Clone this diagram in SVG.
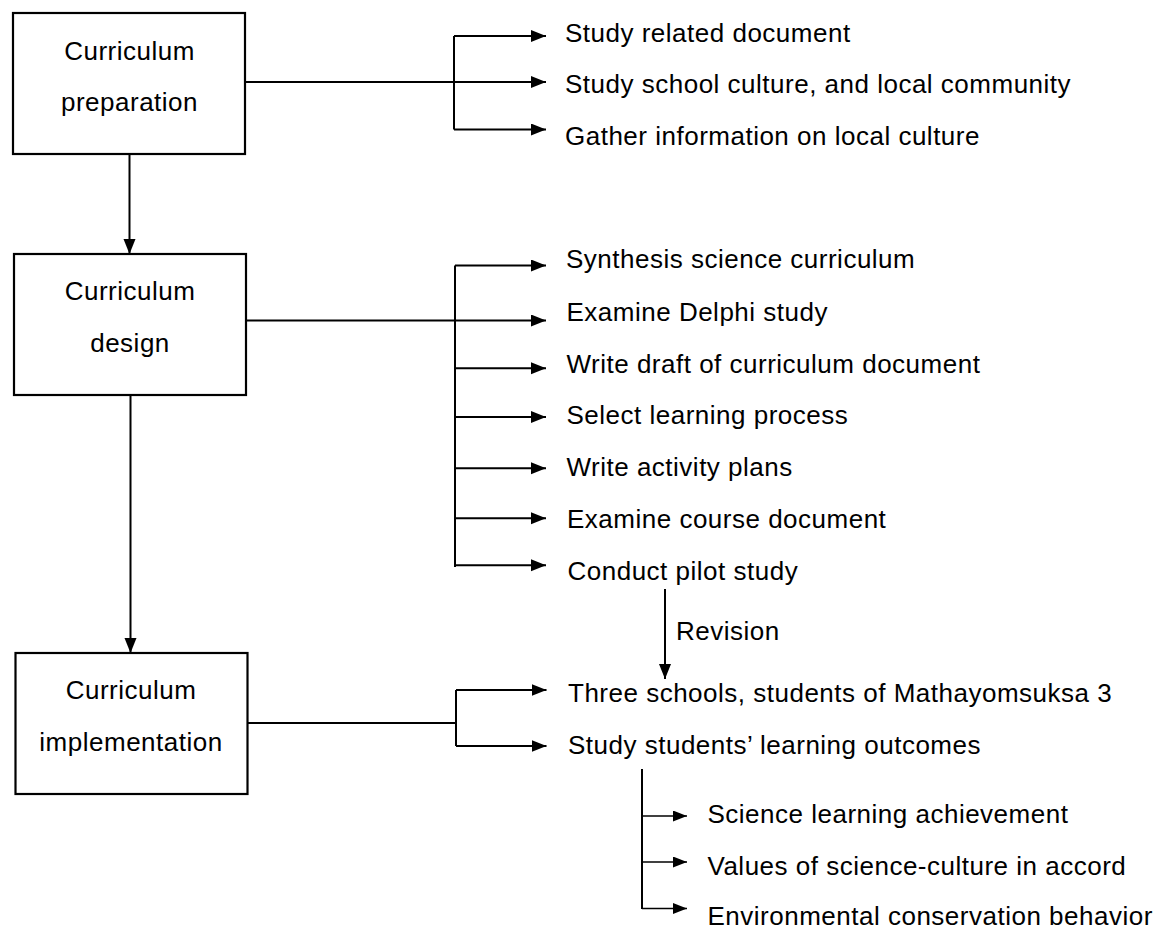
<svg xmlns="http://www.w3.org/2000/svg" width="1158" height="929" viewBox="0 0 1158 929">
  <style>
    .box { fill: #ffffff; stroke: #000000; stroke-width: 2.2; }
    .lbl { font-family: "Liberation Sans", Arial, sans-serif; font-size: 26px; letter-spacing: 0.5px; fill: #000000; }
    .mid { text-anchor: middle; }
    .ln { fill: none; stroke: #000000; stroke-width: 2; }
    .ar { fill: none; stroke: #000000; stroke-width: 2; marker-end: url(#ah); }
    .ars { fill: none; stroke: #000000; stroke-width: 1.6; marker-end: url(#ahs); }
  </style>
  <defs>
    <marker id="ah" markerUnits="userSpaceOnUse" markerWidth="16" markerHeight="13" refX="15" refY="6" orient="auto">
      <path d="M0,0 L15,6 L0,12 Z" fill="#000000"/>
    </marker>
    <marker id="ahs" markerUnits="userSpaceOnUse" markerWidth="15" markerHeight="12" refX="14" refY="5.5" orient="auto">
      <path d="M0,0 L14,5.5 L0,11 Z" fill="#000000"/>
    </marker>
  </defs>
  <rect width="1158" height="929" fill="#ffffff"/>

  <g id="connectors">
    <!-- preparation branch -->
    <line class="ar" x1="245" y1="82" x2="546" y2="82"/>
    <line class="ln" x1="454" y1="36" x2="454" y2="129.5"/>
    <line class="ar" x1="454" y1="36" x2="546" y2="36"/>
    <line class="ar" x1="454" y1="129.5" x2="546" y2="129.5"/>
    <!-- design branch -->
    <line class="ar" x1="246" y1="320.5" x2="546" y2="320.5"/>
    <line class="ln" x1="455" y1="265.5" x2="455" y2="567"/>
    <line class="ar" x1="455" y1="265.5" x2="546" y2="265.5"/>
    <line class="ar" x1="455" y1="368.3" x2="546" y2="368.3"/>
    <line class="ar" x1="455" y1="417" x2="546" y2="417"/>
    <line class="ar" x1="455" y1="468.3" x2="546" y2="468.3"/>
    <line class="ar" x1="455" y1="518.3" x2="546" y2="518.3"/>
    <line class="ar" x1="455" y1="565.3" x2="546" y2="565.3"/>
    <!-- implementation branch -->
    <line class="ln" x1="248" y1="723" x2="456" y2="723"/>
    <line class="ln" x1="456" y1="690" x2="456" y2="746"/>
    <line class="ar" x1="456" y1="690" x2="546.5" y2="690"/>
    <line class="ar" x1="456" y1="746" x2="546.5" y2="746"/>
    <!-- vertical flow -->
    <line class="ar" x1="129.5" y1="154" x2="129.5" y2="254"/>
    <line class="ar" x1="130.5" y1="395" x2="130.5" y2="653"/>
    <!-- revision -->
    <line class="ar" x1="665" y1="589" x2="665" y2="679"/>
    <!-- outcomes sub-branch -->
    <line class="ln" x1="642" y1="769" x2="642" y2="909"/>
    <line class="ars" x1="642" y1="816" x2="687" y2="816"/>
    <line class="ars" x1="642" y1="862" x2="687" y2="862"/>
    <line class="ars" x1="642" y1="908.5" x2="687" y2="908.5"/>
  </g>

  <g id="node-preparation">
    <rect class="box" x="13" y="13" width="232" height="141"/>
    <text class="lbl mid" x="129.5" y="60">Curriculum</text>
    <text class="lbl mid" x="129.5" y="111">preparation</text>
  </g>
  <g id="node-design">
    <rect class="box" x="14" y="254" width="232" height="141"/>
    <text class="lbl mid" x="130" y="300">Curriculum</text>
    <text class="lbl mid" x="130" y="352">design</text>
  </g>
  <g id="node-implementation">
    <rect class="box" x="15.5" y="653" width="232" height="141"/>
    <text class="lbl mid" x="131" y="699">Curriculum</text>
    <text class="lbl mid" x="131" y="751">implementation</text>
  </g>

  <g id="prep-items">
    <text class="lbl" x="565" y="41.7">Study related document</text>
    <text class="lbl" x="565" y="93.3">Study school culture, and local community</text>
    <text class="lbl" x="565" y="145">Gather information on local culture</text>
  </g>
  <g id="design-items">
    <text class="lbl" x="566" y="268.3">Synthesis science curriculum</text>
    <text class="lbl" x="566.5" y="320.7">Examine Delphi study</text>
    <text class="lbl" x="566.5" y="372.7">Write draft of curriculum document</text>
    <text class="lbl" x="566.5" y="424">Select learning process</text>
    <text class="lbl" x="566.5" y="475.7">Write activity plans</text>
    <text class="lbl" x="567" y="528.3">Examine course document</text>
    <text class="lbl" x="567.5" y="580">Conduct pilot study</text>
  </g>
  <g id="revision-label">
    <text class="lbl" x="676" y="640">Revision</text>
  </g>
  <g id="impl-items">
    <text class="lbl" x="568" y="702.3">Three schools, students of Mathayomsuksa 3</text>
    <text class="lbl" x="568" y="754">Study students’ learning outcomes</text>
  </g>
  <g id="outcome-items">
    <text class="lbl" x="707.5" y="822.7">Science learning achievement</text>
    <text class="lbl" x="707.5" y="875">Values of science-culture in accord</text>
    <text class="lbl" x="707.5" y="925">Environmental conservation behavior</text>
  </g>
</svg>
